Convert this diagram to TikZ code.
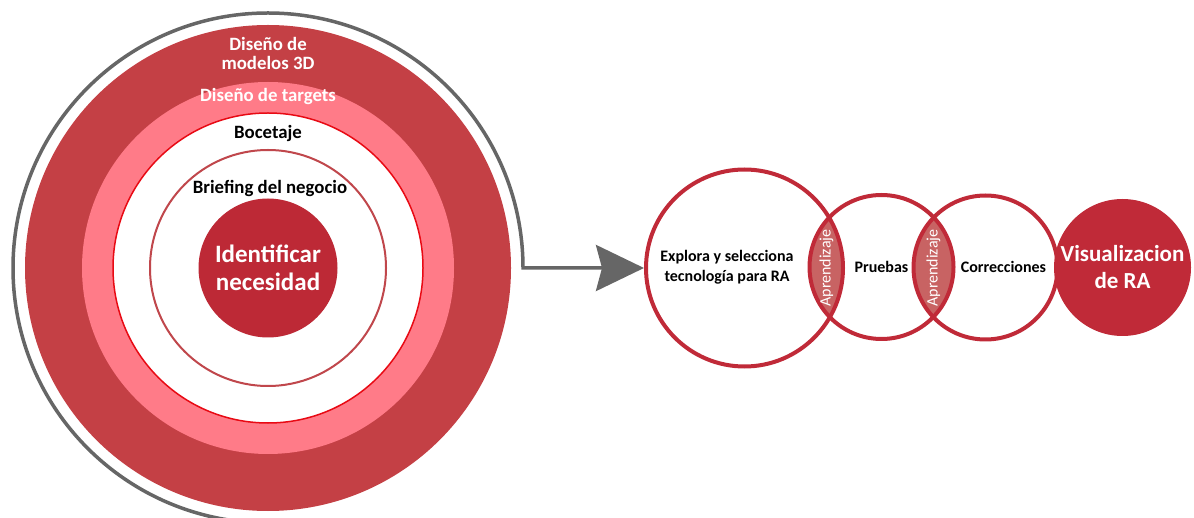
\documentclass[tikz,border=0pt]{standalone}
\usepackage{fontspec}
\setmainfont{Carlito}
\usetikzlibrary{arrows.meta,backgrounds}
\definecolor{ringdark}{RGB}{196,64,69}
\definecolor{ringpink}{RGB}{255,123,136}
\definecolor{thinred}{RGB}{232,10,20}
\definecolor{briefline}{RGB}{192,71,76}
\definecolor{coredisk}{RGB}{189,41,54}
\definecolor{stepred}{RGB}{192,42,56}
\definecolor{lensred}{RGB}{200,99,99}
\definecolor{flowgray}{RGB}{102,102,102}
\begin{document}
\begin{tikzpicture}[x=1pt, y=-1pt]
        \tikzset{ring/.style={circle, inner sep=0pt},
                 stage/.style={circle, draw=stepred, line width=4pt, inner sep=0pt, minimum size=144pt},
                 lbl/.style={align=center, inner sep=0pt, font=\fontsize{18.8}{19}\selectfont\bfseries},
                 steplbl/.style={align=center, inner sep=0pt, font=\fontsize{16}{20}\selectfont\bfseries},
                 lenslbl/.style={inner sep=0pt, rotate=90, text=white, font=\fontsize{16}{16}\selectfont},
                 flow/.style={draw=flowgray, line width=3.5pt, -{Stealth[length=48pt, width=46pt, inset=6pt]}}}
        \useasboundingbox (0,0) rectangle (1194,518);

        \node[ring, fill=ringdark, minimum size=486pt] (models) at (268,268) {};
        \node[ring, fill=ringpink, minimum size=372pt] (targets) at (268,268) {};
        \node[ring, fill=white, draw=thinred, line width=1.5pt, minimum size=310pt] (sketch) at (268,268) {};
        \node[ring, draw=briefline, line width=2pt, minimum size=236pt] (brief) at (268,268) {};
        \node[ring, fill=coredisk, minimum size=139pt, align=center, text=white,
              font=\fontsize{25}{28.5}\selectfont\bfseries] (need) at (268,268) {Identificar\\necesidad};

        \node[lbl, text=white] (modelslbl) at (268,53) {Diseño de\\modelos 3D};
        \node[lbl, text=white] (targetslbl) at (268,97) {Diseño de targets};
        \node[lbl] (sketchlbl) at (268,133) {Bocetaje};
        \node[lbl] (brieflbl) at (270,188) {Briefing del negocio};

        \node[stage, minimum size=197pt] (explore) at (744.5,268) {};
        \node[stage] (tests) at (881.5,267) {};
        \node[stage] (fixes) at (985.5,267.5) {};
        \node[ring, fill=stepred, minimum size=137pt, align=center, text=white,
              font=\fontsize{23}{27}\selectfont\bfseries] (view) at (1122.5,267.5) {Visualizacion\\de RA};

        \begin{scope}[on background layer]
            \begin{scope}
                \clip (explore.center) circle[radius=98.5];
                \fill[lensred] (tests.center) circle[radius=72];
            \end{scope}
            \begin{scope}
                \clip (tests.center) circle[radius=72];
                \fill[lensred] (fixes.center) circle[radius=72];
            \end{scope}
        \end{scope}

        \node[steplbl] (explorelbl) at (727,267) {Explora y selecciona\\tecnología para RA};
        \node[steplbl] (testslbl) at (881.5,267) {Pruebas};
        \node[steplbl] (fixeslbl) at (1003.5,267) {Correcciones};
        \node[lenslbl] (learn1) at (826.5,268) {Aprendizaje};
        \node[lenslbl] (learn2) at (933.5,268) {Aprendizaje};

        \draw[flow] (models.center) ++(0,255) arc[start angle=90, end angle=360, radius=255] -- (explore.west);
    \end{tikzpicture}
\end{document}
